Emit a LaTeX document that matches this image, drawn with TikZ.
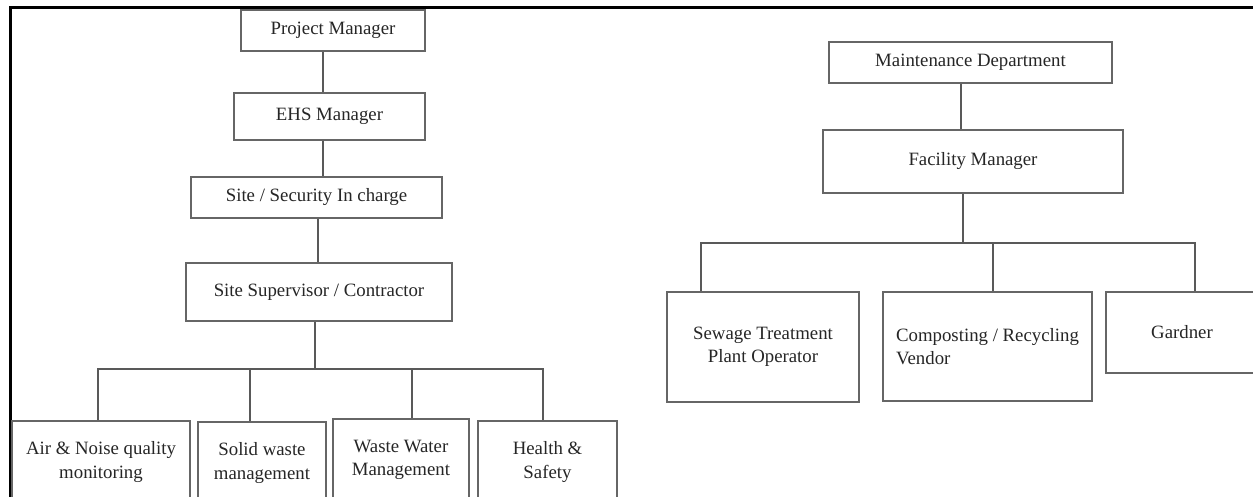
\documentclass[tikz,border=0pt]{standalone}
\usepackage{fontspec}
\setmainfont{Liberation Serif}
\usepackage{tikz}
\usetikzlibrary{calc}
\usetikzlibrary{positioning}
\usetikzlibrary{shadows}
\tikzset{
	orgbox/.style={
		rectangle, 
		fill=white,
		draw=black!60, line width=1.3pt,
		drop shadow={shadow xshift=1.3pt, shadow yshift=-1.3pt, fill=black!80, opacity=1},
		text=black!85,
		align=center, 
		inner sep=0pt},
	line/.style={draw, line width=1.8pt, black!65},
	frame/.style={draw=black, line width=3pt},
}

\begin{document}
\begin{tikzpicture}
	 		[x=1pt, y=-1pt,
	 		font=\fontsize{18.8}{23.5}\selectfont]
	 		\useasboundingbox (0,0) rectangle (1253,497);
	 		\clip (0,0) rectangle (1253,497);
	 		\draw[frame] (10,8) rectangle (1290,540);
	 		% left chart
	 		\node[orgbox, minimum width=184pt, minimum height=41pt] (pm) at (333,30.5) {Project Manager};
	 		\node[orgbox, minimum width=191pt, minimum height=47pt] (ehs) at (329.5,116.5) {EHS Manager};
	 		\node[orgbox, minimum width=251pt, minimum height=41pt] (ssec) at (316.5,197.5) {Site / Security In charge};
	 		\node[orgbox, minimum width=266pt, minimum height=58pt] (ssup) at (319,292) {Site Supervisor / Contractor};
	 		\node[orgbox, minimum width=178pt, minimum height=82pt] (air) at (101,462) {Air \& Noise quality\\monitoring};
	 		\node[orgbox, minimum width=128pt, minimum height=82pt] (solid) at (262,463) {Solid waste\\management};
	 		\node[orgbox, minimum width=136pt, minimum height=82pt] (water) at (401,460) {Waste Water\\Management};
	 		\node[orgbox, minimum width=139pt, minimum height=82pt] (health) at (547.5,462) {Health \&\\Safety};
	 		\coordinate (busl) at (315,369);
	 		\draw[line] ([xshift=-10pt]pm.south) -- ([xshift=-6.5pt]ehs.north);
	 		\draw[line] ([xshift=-6.5pt]ehs.south) -- ([xshift=6.5pt]ssec.north);
	 		\draw[line] ([xshift=1.5pt]ssec.south) -- ([xshift=-1pt]ssup.north);
	 		\draw[line] ([xshift=-4pt]ssup.south) -- (busl);
	 		\draw[line] (busl) -| ([xshift=-3pt]air.north);
	 		\draw[line] (busl) -| ([xshift=-12pt]solid.north);
	 		\draw[line] (busl) -| ([xshift=11pt]water.north);
	 		\draw[line] (busl) -| ([xshift=-4.5pt]health.north);
	 		% right chart
	 		\node[orgbox, minimum width=283pt, minimum height=41pt] (maint) at (970.5,62.5) {Maintenance Department};
	 		\node[orgbox, minimum width=300pt, minimum height=63pt] (fac) at (973,161.5) {Facility Manager};
	 		\node[orgbox, minimum width=192pt, minimum height=110pt] (sewage) at (763,347) {Sewage Treatment\\Plant Operator};
	 		\node[orgbox, minimum width=209pt, minimum height=109pt, align=left] (compost) at (987.5,346.5) {Composting / Recycling\\Vendor};
	 		\node[orgbox, minimum width=152pt, minimum height=81pt] (gard) at (1182,332.5) {Gardner};
	 		\coordinate (busr) at (963,243);
	 		\draw[line] ([xshift=-9.5pt]maint.south) -- ([xshift=-12pt]fac.north);
	 		\draw[line] ([xshift=-10pt]fac.south) -- (busr);
	 		\draw[line] (busr) -| ([xshift=-62pt]sewage.north);
	 		\draw[line] (busr) -| ([xshift=5.5pt]compost.north);
	 		\draw[line] (busr) -| ([xshift=13pt]gard.north);
	 		
	 		
	 		\end{tikzpicture}
\end{document}
